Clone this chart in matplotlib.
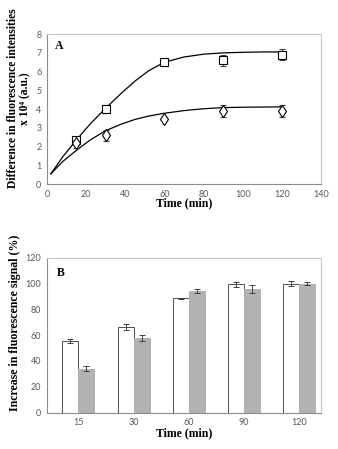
import numpy as np
import matplotlib
matplotlib.use("Agg")
import matplotlib.pyplot as plt

# panel A - measured points (time in min, intensity x 10^4 a.u.)
t_pts     = [15, 30, 60, 90, 120]
sq_vals   = [2.35, 4.0, 6.5, 6.6, 6.9]
sq_err    = [0.15, 0.2, 0.15, 0.3, 0.3]
dia_vals  = [2.2, 2.6, 3.45, 3.9, 3.9]
dia_err   = [0.25, 0.3, 0.1, 0.3, 0.3]

# panel A - fitted curves
fit_t     = [2, 8, 15, 22, 30, 38, 45, 52, 60, 70, 80, 90, 100, 110, 120]
fit_sq    = [0.55, 1.45, 2.35, 3.2, 4.05, 4.85, 5.5, 6.05, 6.5, 6.78, 6.93, 7.0, 7.03, 7.05, 7.05]
fit_dia   = [0.55, 1.2, 1.8, 2.35, 2.85, 3.2, 3.45, 3.63, 3.78, 3.92, 4.02, 4.08, 4.1, 4.11, 4.12]

# panel B - bars
cats      = ["15", "30", "60", "90", "120"]
white_val = [55.5, 66.5, 88.5, 99.5, 100.0]
white_err = [1.5, 2.5, 0.5, 2.0, 2.0]
grey_val  = [34.0, 58.0, 94.0, 95.5, 100.0]
grey_err  = [2.0, 2.5, 1.5, 3.0, 1.5]

SERIF = ["Liberation Serif", "DejaVu Serif"]
TICK_C = "#595959"
ERR_C = "#404040"

plt.rcParams["font.family"] = ["Lato", "DejaVu Sans"]

fig = plt.figure(figsize=(3.38, 4.49), dpi=100)
axA = fig.add_axes([0.139, 0.590, 0.811, 0.334])
axB = fig.add_axes([0.139, 0.081, 0.811, 0.345])


def style(ax):
    for s in ["left", "bottom"]:
        ax.spines[s].set_color("#8c8c8c")
    for s in ["top", "right"]:
        ax.spines[s].set_color("#c8c8c8")
    for s in ax.spines.values():
        s.set_linewidth(0.8)
    ax.tick_params(length=0, labelsize=6.5, colors=TICK_C, pad=4)


# ── panel A ──
axA.plot(fit_t, fit_sq, color="black", lw=0.9)
axA.plot(fit_t, fit_dia, color="black", lw=0.9)
axA.errorbar(t_pts, sq_vals, yerr=sq_err, fmt="s", mfc="white", mec="black",
             ms=6, mew=0.8, ecolor=ERR_C, elinewidth=0.7, capsize=2.5, capthick=0.7)
axA.errorbar(t_pts, dia_vals, yerr=dia_err, fmt="d", mfc="white", mec="black",
             ms=6, mew=0.8, ecolor=ERR_C, elinewidth=0.7, capsize=2.5, capthick=0.7)
axA.set_xlim(0, 140)
axA.set_ylim(0, 8)
axA.set_xticks(range(0, 141, 20))
axA.set_yticks(range(0, 9))
style(axA)
axA.set_xlabel("Time (min)", family=SERIF, fontweight="bold", fontsize=8.5,
               labelpad=-1)
axA.set_ylabel("Difference in fluorescence intensities\nx 10⁴ (a.u.)",
               family=SERIF, fontweight="bold", fontsize=8.4,
               linespacing=1.0)
axA.yaxis.set_label_coords(-0.058, 0.57)
axA.text(0.03, 0.92, "A", transform=axA.transAxes, family=SERIF,
         fontweight="bold", fontsize=8.5, va="center")

# ── panel B ──
x = np.arange(len(cats))
w = 0.29
axB.bar(x - w / 2, white_val, w, color="white", edgecolor="#505050", lw=0.7,
        yerr=white_err, error_kw=dict(ecolor=ERR_C, elinewidth=0.7, capsize=2.5, capthick=0.7))
axB.bar(x + w / 2, grey_val, w, color="#b2b2b2", edgecolor="#b2b2b2", lw=0.7,
        yerr=grey_err, error_kw=dict(ecolor=ERR_C, elinewidth=0.7, capsize=2.5, capthick=0.7))
axB.set_xlim(-0.57, 4.4)
axB.set_ylim(0, 120)
axB.set_xticks(x)
axB.set_xticklabels(cats)
axB.set_yticks(range(0, 121, 20))
style(axB)
axB.set_xlabel("Time (min)", family=SERIF, fontweight="bold", fontsize=8.5,
               labelpad=0)
axB.set_ylabel("Increase in fluorescence signal (%)", family=SERIF,
               fontweight="bold", fontsize=8.6)
axB.yaxis.set_label_coords(-0.095, 0.58)
axB.text(0.035, 0.9, "B", transform=axB.transAxes, family=SERIF,
         fontweight="bold", fontsize=8.5, va="center")

fig.savefig("out.png", dpi=100)
